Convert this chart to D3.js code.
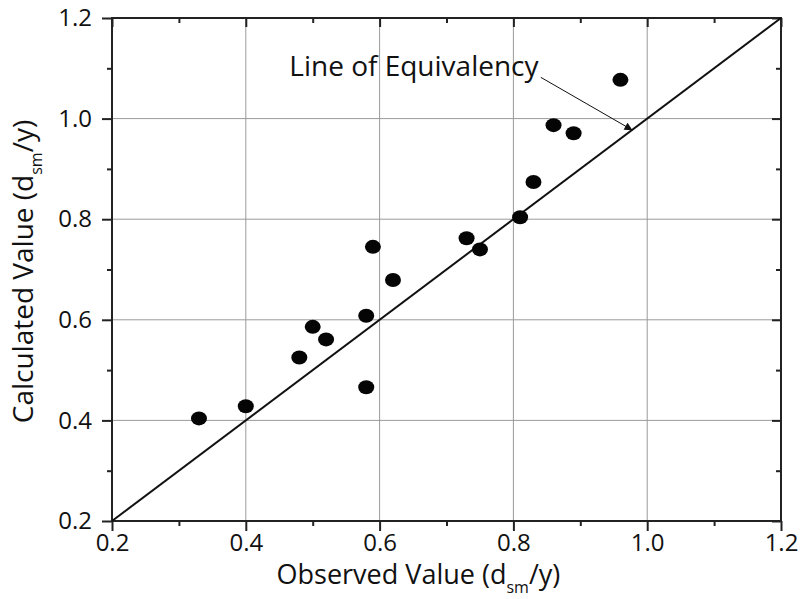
<!DOCTYPE html>
<html>
<head>
<meta charset="utf-8">
<script src="https://cdn.jsdelivr.net/npm/d3@7"></script>
<style>
  body { margin: 0; background: #fff; }
  text { font-family: "Open Sans", Lato, sans-serif; fill: #111; }
</style>
</head>
<body>
<div id="plot"></div>
<script>
// observed vs calculated values
const observed   = [0.33, 0.40, 0.48, 0.50, 0.52, 0.58, 0.58, 0.59, 0.62, 0.73, 0.75, 0.81, 0.83, 0.86, 0.89, 0.96];
const calculated = [0.404, 0.428, 0.525, 0.586, 0.561, 0.608, 0.466, 0.745, 0.679, 0.762, 0.740, 0.804, 0.874, 0.987, 0.971, 1.077];
const majorTicks = [0.2, 0.4, 0.6, 0.8, 1.0, 1.2];
const minorTicks = [0.3, 0.5, 0.7, 0.9, 1.1];
const gridTicks  = [0.4, 0.6, 0.8, 1.0];
const equivLine  = [0.2, 1.2];

const total_width = 803
const total_height = 599
const margin = {left: 112, top: 18, right: 22, bottom: 78}
var width = total_width - margin.left - margin.right
var height = total_height - margin.top - margin.bottom

var svg = d3.select("#plot").append("svg")
  .attr("width", total_width)
  .attr("height", total_height)
  .append("g")
  .attr("transform", "translate(" + margin.left + "," + margin.top + ")");

var x = d3.scaleLinear().domain([0.2, 1.2]).range([0, width]);
var y = d3.scaleLinear().domain([0.2, 1.2]).range([height, 0]);

// grid
svg.append("g").selectAll("line").data(gridTicks).enter().append("line")
  .attr("x1", d => x(d)).attr("x2", d => x(d)).attr("y1", 0).attr("y2", height)
  .attr("stroke", "#9a9a9a").attr("stroke-width", 1);
svg.append("g").selectAll("line").data(gridTicks).enter().append("line")
  .attr("y1", d => y(d)).attr("y2", d => y(d)).attr("x1", 0).attr("x2", width)
  .attr("stroke", "#9a9a9a").attr("stroke-width", 1);

function styleAxis(g) {
  g.select(".domain").remove();
  g.selectAll("line").attr("stroke", "#222").attr("stroke-width", 2);
  g.selectAll("text").style("font-size", "24px").style("fill", "#111")
    .style("font-family", "'Open Sans', Lato, sans-serif");
}

var fmt = d3.format(".1f");
// bottom / left: outward ticks with labels
svg.append("g").attr("transform", "translate(0," + height + ")")
  .call(d3.axisBottom(x).tickValues(majorTicks).tickFormat(fmt).tickSize(10).tickPadding(3)).call(styleAxis);
svg.append("g").attr("transform", "translate(0," + height + ")")
  .call(d3.axisBottom(x).tickValues(minorTicks).tickFormat("").tickSize(5)).call(styleAxis);
svg.append("g")
  .call(d3.axisLeft(y).tickValues(majorTicks).tickFormat(fmt).tickSize(10).tickPadding(10)).call(styleAxis);
svg.append("g")
  .call(d3.axisLeft(y).tickValues(minorTicks).tickFormat("").tickSize(5)).call(styleAxis);
// top / right: inward ticks, no labels
svg.append("g")
  .call(d3.axisTop(x).tickValues(majorTicks).tickFormat("").tickSize(-9)).call(styleAxis);
svg.append("g")
  .call(d3.axisTop(x).tickValues(minorTicks).tickFormat("").tickSize(-5)).call(styleAxis);
svg.append("g").attr("transform", "translate(" + width + ",0)")
  .call(d3.axisRight(y).tickValues(majorTicks).tickFormat("").tickSize(-9)).call(styleAxis);
svg.append("g").attr("transform", "translate(" + width + ",0)")
  .call(d3.axisRight(y).tickValues(minorTicks).tickFormat("").tickSize(-5)).call(styleAxis);

// frame
svg.append("rect").attr("width", width).attr("height", height)
  .attr("fill", "none").attr("stroke", "#222").attr("stroke-width", 2);

// line of equivalency
svg.append("line")
  .attr("x1", x(equivLine[0])).attr("y1", y(equivLine[0]))
  .attr("x2", x(equivLine[1])).attr("y2", y(equivLine[1]))
  .attr("stroke", "#111").attr("stroke-width", 2);

// points
svg.append("g").selectAll("ellipse").data(observed).enter().append("ellipse")
  .attr("cx", d => x(d))
  .attr("cy", (d, i) => y(calculated[i]))
  .attr("rx", 8).attr("ry", 7)
  .attr("fill", "#050505");

// annotation
svg.append("defs").append("marker")
  .attr("id", "arrow").attr("viewBox", "0 0 10 10").attr("refX", 10).attr("refY", 5)
  .attr("markerWidth", 10).attr("markerHeight", 8).attr("markerUnits", "userSpaceOnUse")
  .attr("orient", "auto")
  .append("path").attr("d", "M0,0 L10,5 L0,10 z").attr("fill", "#111");

svg.append("text").attr("x", x(0.465)).attr("y", y(1.085))
  .style("font-size", "28px").text("Line of Equivalency");
svg.append("line")
  .attr("x1", x(0.841)).attr("y1", y(1.082))
  .attr("x2", x(0.978)).attr("y2", y(0.977))
  .attr("stroke", "#111").attr("stroke-width", 1)
  .attr("marker-end", "url(#arrow)");

// axis titles
var xt = svg.append("text").attr("text-anchor", "middle")
  .attr("x", x(0.658)).attr("y", height + 63).style("font-size", "27px");
xt.append("tspan").text("Observed Value (d");
xt.append("tspan").attr("dy", 9).style("font-size", "16px").text("sm");
xt.append("tspan").attr("dy", -9).text("/y)");

var yt = svg.append("text").attr("text-anchor", "middle")
  .attr("transform", "translate(" + (-79) + "," + (height / 2 + 2) + ") rotate(-90)")
  .style("font-size", "28px");
yt.append("tspan").text("Calculated Value (d");
yt.append("tspan").attr("dy", 9).style("font-size", "16px").text("sm");
yt.append("tspan").attr("dy", -9).text("/y)");
</script>
</body>
</html>
